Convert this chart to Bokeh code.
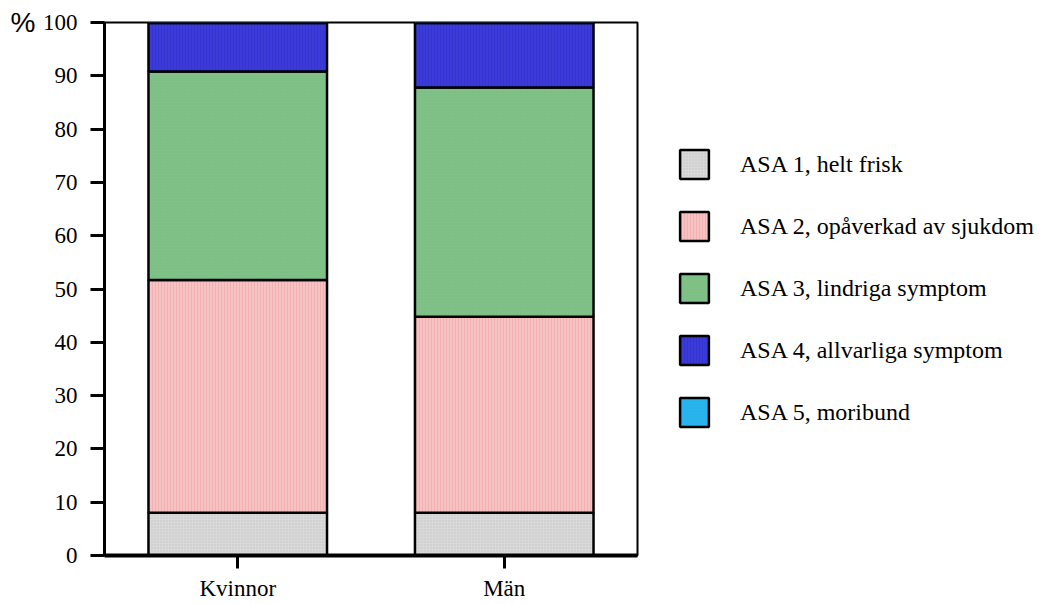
from bokeh.plotting import figure
from bokeh.layouts import row
from bokeh.models import FactorRange, FixedTicker, Legend, LegendItem, LinearAxis, ColumnDataSource
from bokeh.embed import file_html
from bokeh.resources import INLINE

# ---- data ----
groups = ["Kvinnor", "Män"]
series_keys = ["asa1", "asa2", "asa3", "asa4", "asa5"]
series_labels = [
    "ASA 1, helt frisk",
    "ASA 2, opåverkad av sjukdom",
    "ASA 3, lindriga symptom",
    "ASA 4, allvarliga symptom",
    "ASA 5, moribund",
]
asa1 = [8.0, 8.0]
asa2 = [43.7, 36.8]
asa3 = [39.1, 43.0]
asa4 = [9.1, 12.1]
asa5 = [0.1, 0.1]
y_ticks = [0, 10, 20, 30, 40, 50, 60, 70, 80, 90, 100]
unit_label = "%"

# ---- styles ----
fill_colors = ["#d9d9d9", "#f7c2c2", "#7fc187", "#3b3bdc", "#2ab4ee"]
hatch_patterns = ["dot", "vertical_line", "dot", "vertical_line", "dot"]
hatch_colors = ["#b8b8b8", "#eaa5a5", "#74b47c", "#3030c4", "#22a8e0"]
bar_style = dict(
    fill_color=fill_colors, hatch_pattern=hatch_patterns, hatch_color=hatch_colors,
    hatch_scale=3, hatch_weight=1, hatch_alpha=0.6,
    line_color="black", line_width=2.5,
)

source = ColumnDataSource(dict(groups=groups, asa1=asa1, asa2=asa2, asa3=asa3, asa4=asa4, asa5=asa5))

# ---- main chart ----
p = figure(
    x_range=FactorRange(factors=groups, range_padding=0),
    y_range=(0, 100),
    width=640, height=604,
    min_border_left=104, min_border_right=3, min_border_top=22, min_border_bottom=49,
    output_backend="svg", toolbar_location=None,
    background_fill_color="white", border_fill_color="white",
)

p.vbar_stack(series_keys, x="groups", width=0.67, source=source, **bar_style)

p.xgrid.visible = False
p.ygrid.visible = False
p.outline_line_color = "black"
p.outline_line_width = 2

# y axis
p.yaxis.ticker = FixedTicker(ticks=y_ticks)
p.yaxis.axis_line_width = 3
p.yaxis.axis_line_color = "black"
p.yaxis.major_tick_line_width = 3
p.yaxis.major_tick_line_color = "black"
p.yaxis.major_tick_out = 14
p.yaxis.major_tick_in = 0
p.yaxis.minor_tick_line_color = None
p.yaxis.major_label_standoff = 13
p.yaxis.major_label_text_font = "Liberation Serif"
p.yaxis.major_label_text_font_size = "23px"
p.yaxis.major_label_text_color = "black"

# unit marker "%" as an outer left axis with a single labelled tick at 100
unit_axis = LinearAxis(
    ticker=FixedTicker(ticks=[100]),
    major_label_overrides={100: unit_label},
    axis_line_color=None, major_tick_line_color=None, minor_tick_line_color=None,
    major_tick_out=0, major_tick_in=0, major_label_standoff=4,
    major_label_text_font="Liberation Sans", major_label_text_font_size="28px",
    major_label_text_color="black",
)
p.add_layout(unit_axis, "left")

# x axis
p.xaxis.axis_line_width = 4
p.xaxis.axis_line_color = "black"
p.xaxis.major_tick_line_width = 3
p.xaxis.major_tick_line_color = "black"
p.xaxis.major_tick_out = 13
p.xaxis.major_tick_in = 0
p.xaxis.major_label_standoff = 7
p.xaxis.major_label_text_font = "Liberation Serif"
p.xaxis.major_label_text_font_size = "23px"
p.xaxis.major_label_text_color = "black"

# ---- legend panel ----
pl = figure(
    x_range=FactorRange(factors=groups), y_range=(0, 100),
    width=396, height=604,
    min_border_left=0, min_border_right=0, min_border_top=0, min_border_bottom=0,
    x_axis_type=None, y_axis_type=None,
    output_backend="svg", toolbar_location=None,
    background_fill_color="white", border_fill_color="white",
)
pl.outline_line_color = None
pl.xgrid.visible = False
pl.ygrid.visible = False
leg_renderers = pl.vbar_stack(series_keys, x="groups", width=0.67, source=source,
                              visible=False, **bar_style)

items = [LegendItem(label=lab, renderers=[r]) for lab, r in zip(series_labels, leg_renderers)]
legend = Legend(
    items=items, location=(36, 125),
    glyph_width=36, glyph_height=36, spacing=26, label_standoff=28,
    label_text_font="Liberation Serif", label_text_font_size="24px", label_text_color="black",
    padding=0, margin=0, border_line_color=None, background_fill_alpha=0,
    inactive_fill_alpha=0,
)
pl.add_layout(legend)

layout = row(p, pl)
open("out.html", "w").write(file_html(layout, INLINE))
